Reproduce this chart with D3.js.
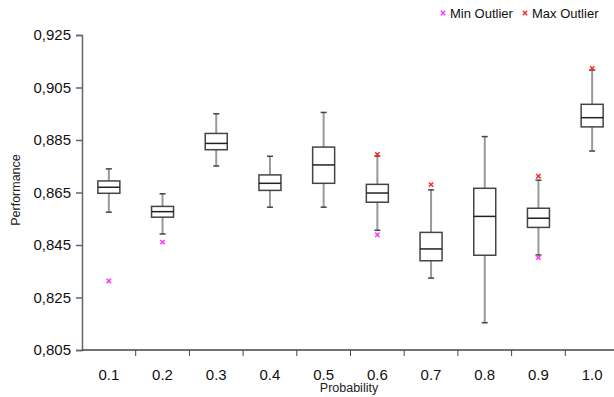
<!DOCTYPE html>
<html>
<head>
<meta charset="utf-8">
<script src="https://cdn.jsdelivr.net/npm/d3@7"></script>
<style>
  body { margin: 0; background: #fff; }
  text { font-family: "Liberation Sans", Arial, sans-serif; }
</style>
</head>
<body>
<div id="vis"></div>
<script>
// data
let categories = ['0.1', '0.2', '0.3', '0.4', '0.5', '0.6', '0.7', '0.8', '0.9', '1.0']
let whiskerLow = [0.8575, 0.8492, 0.8751, 0.8594, 0.8594, 0.8506, 0.8324, 0.8154, 0.8412, 0.8808]
let boxLow = [0.8647, 0.8556, 0.8813, 0.8658, 0.8685, 0.8613, 0.8390, 0.8411, 0.8517, 0.8900]
let medians = [0.8670, 0.8577, 0.8837, 0.8685, 0.8755, 0.8648, 0.8435, 0.8559, 0.8552, 0.8935]
let boxHigh = [0.8694, 0.8597, 0.8875, 0.8717, 0.8823, 0.8681, 0.8498, 0.8666, 0.8590, 0.8986]
let whiskerHigh = [0.8740, 0.8645, 0.8950, 0.8788, 0.8955, 0.8789, 0.8660, 0.8863, 0.8697, 0.9117]
let minOutliers = [0.8313, 0.8461, null, null, null, 0.8489, null, null, 0.8402, null]
let maxOutliers = [null, null, null, null, null, 0.8795, 0.8680, null, 0.8712, 0.9123]
let yTicks = [0.805, 0.825, 0.845, 0.865, 0.885, 0.905, 0.925]

let margin = { top: 35, left: 82, right: -5, bottom: 47 },
  width = 614 - margin.left - margin.right,
  height = 397 - margin.top - margin.bottom

let svg = d3.select('#vis')
  .append('svg')
  .attr('width', 614)
  .attr('height', 397)

let g = svg.append('g')
  .attr('transform', `translate(${margin.left},${margin.top})`)

let x = d3.scaleBand().domain(categories).range([0, width]).padding(0)
let y = d3.scaleLinear().domain([0.805, 0.925]).range([height, 0])

// y axis
let yAxis = g.append('g')
  .call(d3.axisLeft(y).tickValues(yTicks).tickSize(6).tickFormat(d => d3.format('.3f')(d).replace('.', ',')))
yAxis.selectAll('path, line').attr('stroke', '#666').attr('stroke-width', 1.5)
yAxis.selectAll('text').attr('font-size', 15).attr('fill', '#111').attr('dx', '-2')

// x axis: ticks sit between categories
let xAxis = g.append('g').attr('transform', `translate(0,${height})`)
xAxis.append('line')
  .attr('x1', 0).attr('x2', width)
  .attr('stroke', '#444').attr('stroke-width', 1.5)
xAxis.selectAll('line.tick')
  .data(categories.slice(1))
  .enter().append('line')
  .attr('class', 'tick')
  .attr('x1', d => x(d)).attr('x2', d => x(d))
  .attr('y1', 0).attr('y2', 6)
  .attr('stroke', '#444')
xAxis.selectAll('text')
  .data(categories)
  .enter().append('text')
  .attr('x', d => x(d) + x.bandwidth() / 2)
  .attr('y', 30)
  .attr('text-anchor', 'middle')
  .attr('font-size', 15)
  .attr('fill', '#111')
  .text(d => d)

// axis titles
svg.append('text')
  .attr('x', 349).attr('y', 392)
  .attr('text-anchor', 'middle')
  .attr('font-size', 12.5)
  .attr('font-family', 'DejaVu Sans')
  .attr('fill', '#222')
  .text('Probability')

svg.append('text')
  .attr('transform', 'translate(20,190) rotate(-90)')
  .attr('text-anchor', 'middle')
  .attr('font-size', 12.5)
  .attr('font-family', 'DejaVu Sans')
  .attr('fill', '#222')
  .text('Performance')

// boxes
let boxW = 22, capW = 6
let boxes = g.selectAll('g.box')
  .data(categories)
  .enter().append('g')
  .attr('class', 'box')
  .attr('transform', d => `translate(${x(d) + x.bandwidth() / 2},0)`)

// whiskers
boxes.append('line')
  .attr('y1', (d, i) => y(whiskerHigh[i])).attr('y2', (d, i) => y(boxHigh[i]))
  .attr('stroke', '#999').attr('stroke-width', 2)
boxes.append('line')
  .attr('y1', (d, i) => y(boxLow[i])).attr('y2', (d, i) => y(whiskerLow[i]))
  .attr('stroke', '#999').attr('stroke-width', 2)
boxes.append('line')
  .attr('x1', -capW / 2).attr('x2', capW / 2)
  .attr('y1', (d, i) => y(whiskerHigh[i])).attr('y2', (d, i) => y(whiskerHigh[i]))
  .attr('stroke', '#444').attr('stroke-width', 1.5)
boxes.append('line')
  .attr('x1', -capW / 2).attr('x2', capW / 2)
  .attr('y1', (d, i) => y(whiskerLow[i])).attr('y2', (d, i) => y(whiskerLow[i]))
  .attr('stroke', '#444').attr('stroke-width', 1.5)

boxes.append('rect')
  .attr('x', -boxW / 2)
  .attr('width', boxW)
  .attr('y', (d, i) => y(boxHigh[i]))
  .attr('height', (d, i) => y(boxLow[i]) - y(boxHigh[i]))
  .attr('fill', '#fff')
  .attr('stroke', '#444').attr('stroke-width', 1.5)

boxes.append('line')
  .attr('x1', -boxW / 2).attr('x2', boxW / 2)
  .attr('y1', (d, i) => y(medians[i])).attr('y2', (d, i) => y(medians[i]))
  .attr('stroke', '#222').attr('stroke-width', 1.5)

// outlier markers
let mark = d3.symbol().type(d3.symbolX).size(14)
function drawOutliers(values, color) {
  g.selectAll(null)
    .data(categories.filter((d, i) => values[i] != null))
    .enter().append('path')
    .attr('d', mark)
    .attr('transform', d => `translate(${x(d) + x.bandwidth() / 2},${y(values[categories.indexOf(d)])})`)
    .attr('fill', 'none')
    .attr('stroke', color)
    .attr('stroke-width', 1.5)
}
drawOutliers(minOutliers, '#ff33ff')
drawOutliers(maxOutliers, '#ff2a2a')

// legend
let legend = svg.append('g').attr('transform', 'translate(443,13)')
let legendItems = [['Min Outlier', '#ff33ff', 0], ['Max Outlier', '#ff2a2a', 82]]
legendItems.forEach(item => {
  legend.append('path')
    .attr('d', mark)
    .attr('transform', `translate(${item[2]},0)`)
    .attr('fill', 'none').attr('stroke', item[1]).attr('stroke-width', 1.5)
  legend.append('text')
    .attr('x', item[2] + 7).attr('y', 5)
    .attr('font-size', 13)
    .attr('fill', '#111')
    .text(item[0])
})
</script>
</body>
</html>
